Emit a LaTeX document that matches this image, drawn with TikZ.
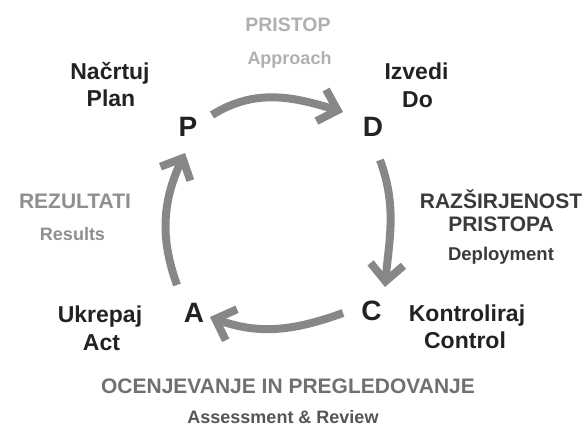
\documentclass[tikz,border=0pt]{standalone}
\usepackage{fontspec}
\setmainfont{Liberation Sans}
\usetikzlibrary{arrows.meta}
\definecolor{cyclegray}{HTML}{878787}
\definecolor{pristopgray}{HTML}{B0B0B0}
\definecolor{rezgray}{HTML}{8F8F8F}
\definecolor{razgray}{HTML}{3A3A3A}
\definecolor{ocegray}{HTML}{707070}
\definecolor{assgray}{HTML}{555555}
\definecolor{labelblack}{HTML}{222222}
\begin{document}
\begin{tikzpicture}[x=1pt, y=1pt, >={Straight Barb[sharp, length=17pt, width=33pt]},
  letter/.style={font=\bfseries\fontsize{28}{30}\selectfont, inner sep=0, text=labelblack},
  lbl/.style={font=\bfseries\fontsize{23}{26}\selectfont, anchor=base, inner sep=0, text=labelblack},
  head/.style={font=\bfseries\fontsize{21}{24}\selectfont, anchor=base, inner sep=0},
  sub/.style={font=\bfseries\fontsize{18}{20}\selectfont, anchor=base, inner sep=0},
  cycle/.style={->, draw=cyclegray, line width=8pt}]
\useasboundingbox (0,0) rectangle (585,426);
\node[letter] (P) at (188,299) {P};
\node[letter] (D) at (373,299) {D};
\node[letter] (C) at (371.5,115) {C};
\node[letter] (A) at (194,113.5) {A};
\node[lbl] (nacrtuj) at (110,346) {Načrtuj};
\node[lbl] (plan) at (111,319) {Plan};
\node[lbl] (izvedi) at (416.5,346) {Izvedi};
\node[lbl] (do) at (417.5,318) {Do};
\node[lbl] (kontroliraj) at (467,105) {Kontroliraj};
\node[lbl] (control) at (465,78) {Control};
\node[lbl] (ukrepaj) at (100,104) {Ukrepaj};
\node[lbl] (act) at (101.5,76) {Act};
\node[head, text=pristopgray, font=\bfseries\fontsize{19.5}{22}\selectfont] (pristop) at (288,394) {PRISTOP};
\node[sub, text=pristopgray] (approach) at (289.5,361) {Approach};
\node[head, text=rezgray] (rezultati) at (75,218) {REZULTATI};
\node[sub, text=rezgray] (results) at (72.5,186) {Results};
\node[head, text=razgray] (razsirjenost) at (501,218) {RAZŠIRJENOST};
\node[head, text=razgray] (pristopa) at (501,195) {PRISTOPA};
\node[sub, text=razgray, font=\bfseries\fontsize{18.5}{20}\selectfont] (deployment) at (501,166) {Deployment};
\node[head, text=ocegray] (ocenjevanje) at (288,33) {OCENJEVANJE IN PREGLEDOVANJE};
\node[sub, text=assgray] (assessment) at (283,3) {Assessment \& Review};
\draw[cycle] ([shift={(24,12)}]P.center) to[out=32,in=163] ([shift={(-30,15)}]D.center);
\draw[cycle] ([shift={(7,-33)}]D.center) to[out=-70,in=85] ([shift={(13.5,24)}]C.center);
\draw[cycle] ([shift={(-28.5,-2)}]C.center) to[out=200,in=-20] ([shift={(16,-4.5)}]A.center);
\draw[cycle] ([shift={(-17,27.5)}]A.center) to[out=110,in=-115] ([shift={(-3,-26)}]P.center);
\end{tikzpicture}
\end{document}
